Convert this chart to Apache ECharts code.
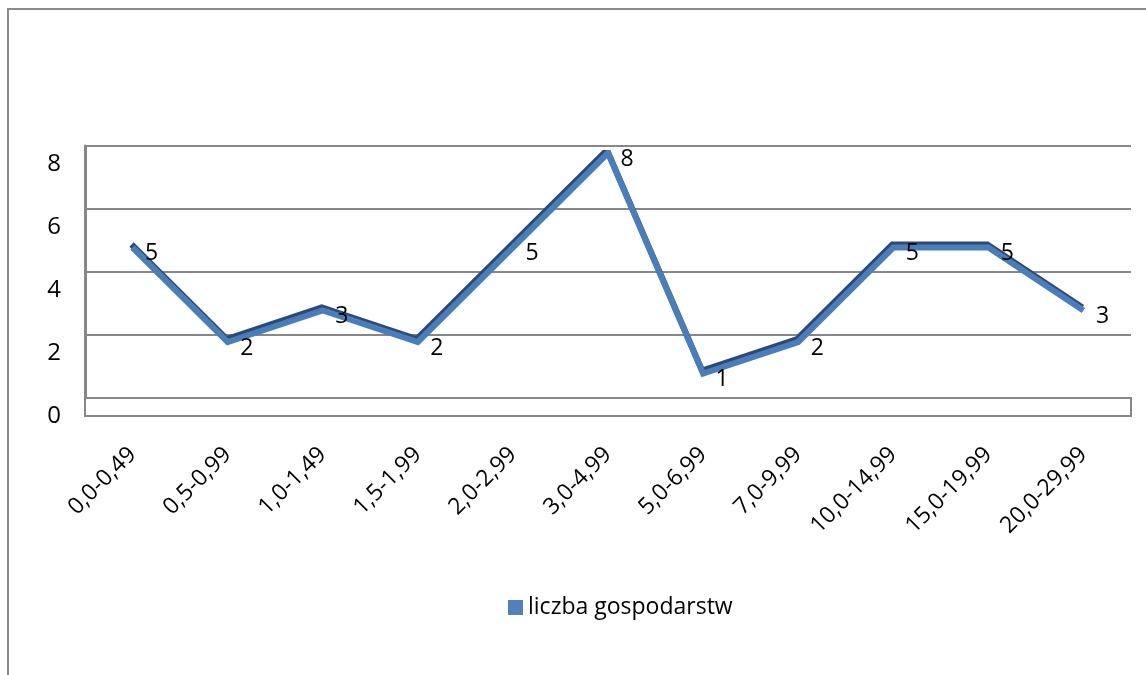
<!DOCTYPE html>
<html>
<head>
<meta charset="utf-8">
<script src="https://cdn.jsdelivr.net/npm/echarts@6/dist/echarts.min.js"></script>
<style>
  html, body { margin: 0; padding: 0; background: #fff; }
  #chart { position: absolute; left: 0; top: 0; width: 1146px; height: 675px; }
  #frame { position: absolute; left: 7px; top: 8px; width: 1200px; height: 700px;
           border-left: 2px solid #8a8a8a; border-top: 2px solid #8a8a8a; pointer-events: none; }
</style>
</head>
<body>
<div id="chart"></div>
<div id="frame"></div>
<script>
const categories = ['0,0-0,49', '0,5-0,99', '1,0-1,49', '1,5-1,99', '2,0-2,99', '3,0-4,99',
                    '5,0-6,99', '7,0-9,99', '10,0-14,99', '15,0-19,99', '20,0-29,99'];
const households = [5, 2, 3, 2, 5, 8, 1, 2, 5, 5, 3];
const seriesName = 'liczba gospodarstw';

const FONT = '"Open Sans", "Noto Sans", sans-serif';
const GRAY = '#878787';
const BLUE = '#4f81bd';

const chart = echarts.init(document.getElementById('chart'));

chart.setOption({
    animation: false,
    textStyle: { fontFamily: FONT, color: '#000' },
    legend: {
        data: [{ name: seriesName, itemStyle: { color: BLUE, opacity: 1 } }],
        left: 503, top: 591,
        icon: 'rect', itemWidth: 15, itemHeight: 15, itemGap: 6,
        textStyle: { fontSize: 23, fontFamily: FONT, color: '#000' }
    },
    grid: [
        // back wall with gridlines
        { left: 85, right: 15, top: 146, bottom: 277 },
        // data plane (3d depth offset)
        { left: 85, right: 15, top: 153, bottom: 270 },
        // floor
        { left: 85, right: 15, top: 398, bottom: 259, show: true,
          borderColor: GRAY, borderWidth: 2, backgroundColor: 'transparent' }
    ],
    xAxis: [
        { type: 'category', gridIndex: 0, data: categories, show: false },
        {
            type: 'category', gridIndex: 1, data: categories, boundaryGap: true,
            axisLine: { show: false }, axisTick: { show: false },
            axisLabel: { rotate: 45, margin: 46, fontSize: 23, color: '#000', interval: 0 }
        },
        { type: 'category', gridIndex: 2, data: categories, show: false }
    ],
    yAxis: [
        {
            type: 'value', gridIndex: 0, min: 0, max: 8, interval: 2,
            axisLine: { show: true, lineStyle: { color: GRAY, width: 3 } },
            axisTick: { show: false },
            splitLine: { show: true, lineStyle: { color: GRAY, width: 2 } },
            axisLabel: { fontSize: 24, color: '#000', margin: 24,
                         verticalAlign: 'top', padding: [6, 0, 0, 0] }
        },
        { type: 'value', gridIndex: 1, min: 0, max: 8, show: false },
        { type: 'value', gridIndex: 2, min: 0, max: 1, show: false }
    ],
    series: [{
        name: seriesName,
        type: 'line',
        xAxisIndex: 1, yAxisIndex: 1,
        data: households,
        symbol: 'circle',
        symbolSize: 1,
        showSymbol: true,
        itemStyle: { color: 'rgba(0,0,0,0)', borderWidth: 0 },
        lineStyle: {
            color: '#4a7ebb', width: 6, join: 'miter',
            shadowColor: '#2d4a74', shadowBlur: 0, shadowOffsetX: -1, shadowOffsetY: -3
        },
        label: {
            show: true, position: 'right', distance: 12, offset: [0, 6],
            fontSize: 23, color: '#000', fontFamily: FONT
        }
    }]
});
</script>
</body>
</html>
